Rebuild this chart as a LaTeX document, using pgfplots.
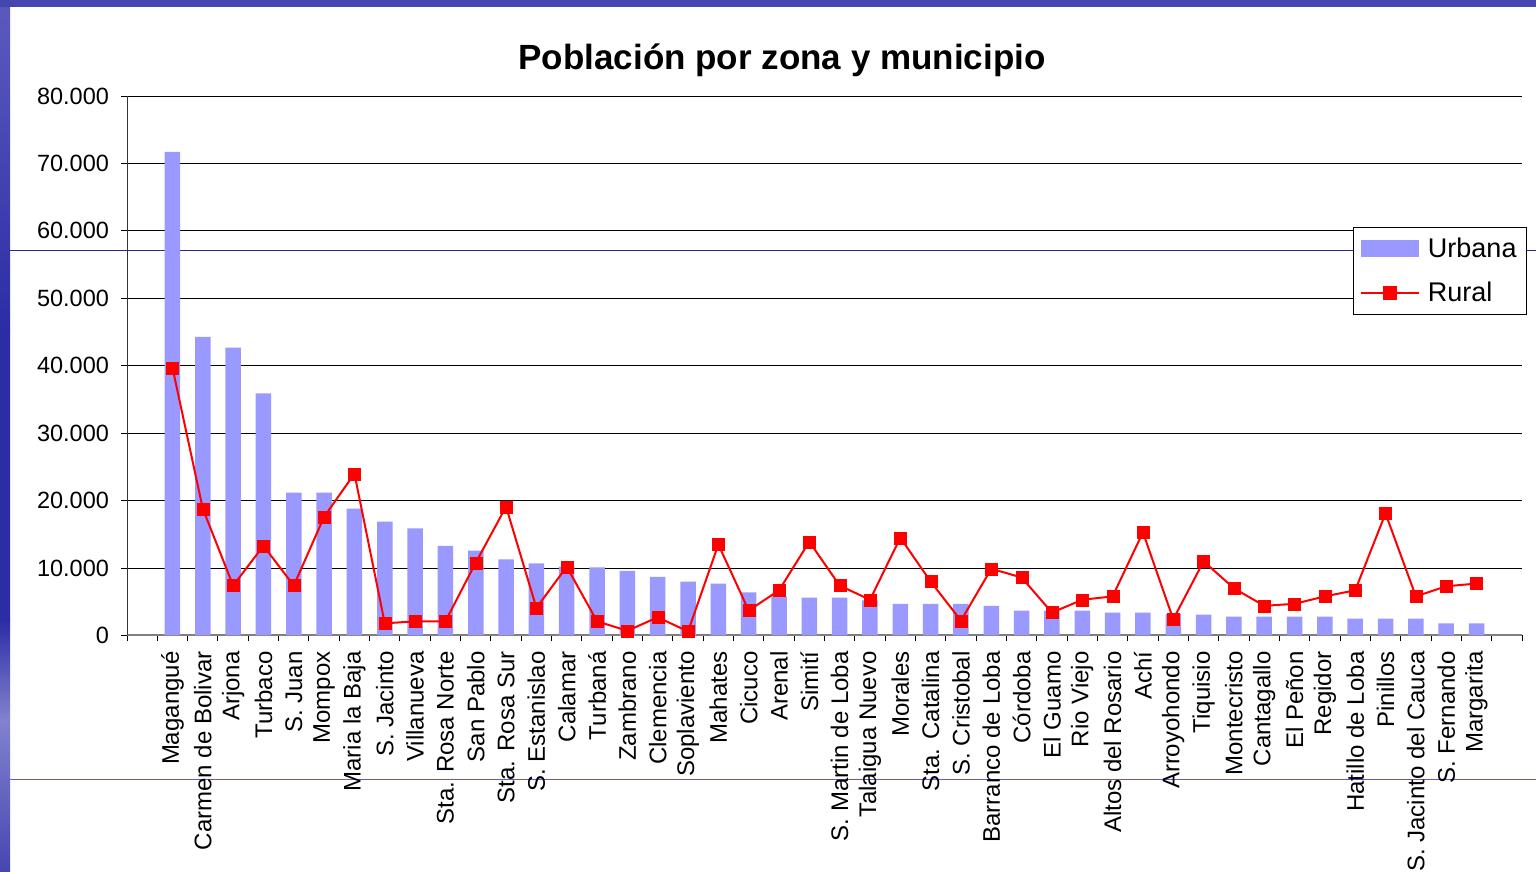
\documentclass[border=0pt]{standalone}
\usepackage{pgfplots}
\pgfplotsset{compat=1.18}
\usepackage{fontspec}
\setmainfont{Liberation Sans}
\definecolor{barblue}{HTML}{9999FF}
\definecolor{navyline}{HTML}{2A2A96}
\definecolor{lightline}{HTML}{5C5CCC}
\definecolor{bandA}{HTML}{5A5ABE}
\definecolor{bandB}{HTML}{4E4EB6}
\definecolor{bandC}{HTML}{2C2CA6}
\definecolor{bandD}{HTML}{8282CE}
\definecolor{bandE}{HTML}{4646B0}
\pgfplotstableread{
x urb rur
0 71700 39700
1 44300 18800
2 42700 7400
3 35900 13300
4 21200 7400
5 21200 17600
6 18800 24000
7 16900 1800
8 15900 2100
9 13300 2100
10 12600 10800
11 11300 19100
12 10700 4100
13 10200 10200
14 10100 2100
15 9600 700
16 8700 2700
17 8000 600
18 7700 13500
19 6400 3700
20 5800 6700
21 5600 13900
22 5600 7400
23 5200 5300
24 4700 14500
25 4700 8000
26 4700 2200
27 4400 9900
28 3700 8600
29 3700 3400
30 3700 5300
31 3400 5800
32 3400 15300
33 3200 2400
34 3100 11000
35 2800 7000
36 2800 4400
37 2800 4700
38 2800 5800
39 2500 6700
40 2500 18100
41 2500 5800
42 1800 7300
43 1800 7700
}\datatable
\begin{document}
\begin{tikzpicture}
\useasboundingbox (0,0) rectangle (768pt,436pt);
\fill[white] (0,0) rectangle (768pt,436pt);
% slide decoration
\shade[top color=bandA, bottom color=bandB] (0,386pt) rectangle (5pt,436pt);
\shade[top color=bandB, bottom color=bandC] (0,271pt) rectangle (5pt,386pt);
\shade[top color=bandC, bottom color=bandC] (0,126pt) rectangle (5pt,271pt);
\shade[top color=bandC, bottom color=bandD] (0,76pt) rectangle (5pt,126pt);
\shade[top color=bandD, bottom color=bandE] (0,0pt) rectangle (5pt,76pt);
\fill[bandE] (0,432.65pt) rectangle (768pt,436pt);
\draw[navyline, line width=0.5pt] (5pt,310.5pt) -- (768pt,310.5pt);
\draw[lightline, line width=0.5pt] (5pt,46pt) -- (768pt,46pt);
\begin{axis}[
  width=697.5pt, height=269.75pt, scale only axis,
  at={(63.5pt,118.25pt)}, anchor=south west,
  xmin=-1.5, xmax=44.5, ymin=0, ymax=80000,
  axis x line=bottom, axis y line=left,
  x axis line style={-, gray, line width=1pt},
  y axis line style={-, black!80, line width=0.5pt},
  tick align=outside,
  ytick={0,10000,...,80000},
  scaled y ticks=false,
  /pgf/number format/.cd, 1000 sep={.}, assume math mode=true, /pgfplots/.cd,
  ymajorgrids,
  major grid style={black, line width=0.5pt},
  ytick style={black, line width=0.5pt},
  major tick length=3pt, minor tick length=3pt,
  xtick={0,...,43},
  major x tick style={draw=none},
  minor xtick={-1.5,-0.5,...,44.5},
  minor x tick style={black, line width=0.5pt},
  xticklabels={Magangué,Carmen de Bolivar,Arjona,Turbaco,S. Juan,Mompox,Maria la Baja,S. Jacinto,Villanueva,Sta. Rosa Norte,San Pablo,Sta. Rosa Sur,S. Estanislao,Calamar,Turbaná,Zambrano,Clemencia,Soplaviento,Mahates,Cicuco,Arenal,Simití,S. Martin de Loba,Talaigua Nuevo,Morales,Sta. Catalina,S. Cristobal,Barranco de Loba,Córdoba,El Guamo,Rio Viejo,Altos del Rosario,Achí,Arroyohondo,Tiquisio,Montecristo,Cantagallo,El Peñon,Regidor,Hatillo de Loba,Pinillos,S. Jacinto del Cauca,S. Fernando,Margarita},
  xticklabel style={rotate=90, anchor=east, font=\fontsize{12}{14}\selectfont, xshift=-1.5pt},
  yticklabel style={font=\fontsize{11.75}{14}\selectfont, xshift=-2.5pt},
  legend style={at={(1.0036,0.757)}, anchor=north east, draw=black, line width=0.5pt, fill=white,
    font=\fontsize{13.5}{16}\selectfont, inner xsep=3pt, inner ysep=3pt, row sep=7pt},
  legend cell align=left,
]
\addplot[ybar, bar width=7.75pt, fill=barblue, draw=none,
  legend image code/.code={\fill[barblue] (0pt,-4.25pt) rectangle (29pt,4.25pt); \path (31pt,0pt);}]
  table[x=x, y=urb] {\datatable};
\addplot[red, line width=1pt, mark=square*, mark size=3pt, mark options={fill=red, draw=red, line width=0.1pt},
  legend image code/.code={\draw[red, line width=1pt] (0pt,0pt) -- (29pt,0pt); \fill[red] (11.5pt,-3pt) rectangle (17.5pt,3pt); \path (31pt,0pt);}]
  table[x=x, y=rur] {\datatable};
\legend{Urbana, Rural}
\end{axis}
\node[font=\fontsize{17.5}{20}\selectfont\bfseries, anchor=base] at (391pt,401.25pt) {Población por zona y municipio};
\end{tikzpicture}
\end{document}
